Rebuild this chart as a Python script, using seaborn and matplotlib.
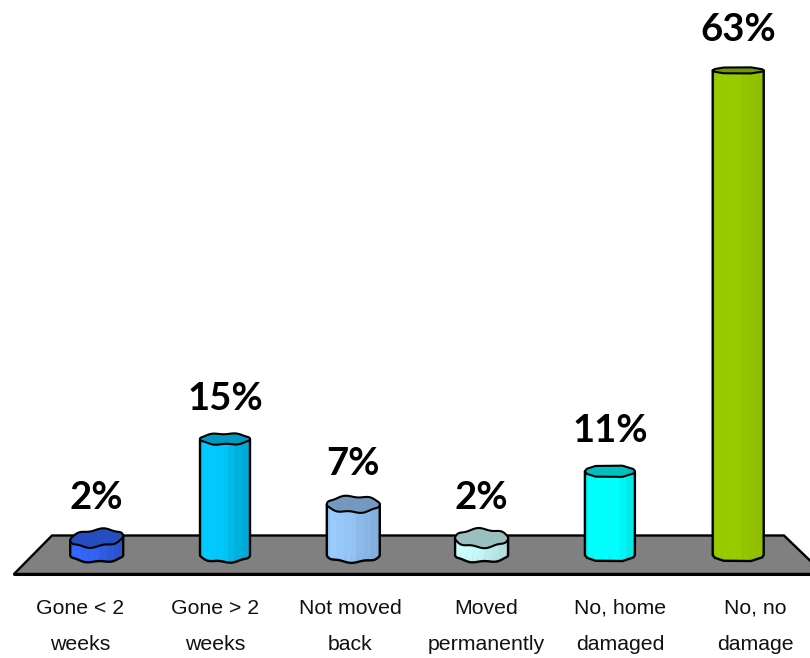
import numpy as np
import pandas as pd
import seaborn as sns
import matplotlib
matplotlib.use("Agg")
import matplotlib.pyplot as plt
from matplotlib.colors import to_rgb

categories = ["Gone < 2\nweeks", "Gone > 2\nweeks", "Not moved\nback",
              "Moved\npermanently", "No, home\ndamaged", "No, no\ndamage"]
values = [2.2, 15.1, 6.6, 2.2, 10.9, 63.1]
value_labels = ["2%", "15%", "7%", "2%", "11%", "63%"]
side_colors = ["#3366FF", "#00CCFF", "#99CCFF", "#CCFFFF", "#00FFFF", "#99CC00"]

# layout, in pixels of the 810x658 picture
W, H = 810, 658
PX_PER_CAT = 128.3
PX_PER_PCT = 7.68
X0_PX = 96.7
BASE_PX = 555.0
FLOOR_BOTTOM_PX = 574.0
bar_widths_px = [53, 50, 53, 53, 50, 51]
top_ry_px = [8.5, 5.5, 8, 9, 6.5, 3.5]
base_ry_px = [7, 7, 7, 7, 7, 7]
rim_kind = ["bean", "wave", "wave", "wave", "oct", "oct"]
tick_px = [80, 215, 350, 486, 620.5, 755]
# how each bar's side darkens from left to right
shade_f = [0.0, 0.1, 0.5, 0.65, 0.85, 1.0]
shade_v = [[1.0, 1.0, 0.95, 0.88, 0.82, 0.78],
           [0.95, 1.0, 0.97, 0.9, 0.84, 0.8],
           [0.92, 1.0, 0.95, 0.9, 0.88, 0.78],
           [1.0, 1.0, 0.96, 0.92, 0.88, 0.82],
           [0.92, 1.0, 1.0, 1.0, 0.93, 0.88],
           [0.97, 1.0, 1.0, 0.97, 0.94, 0.94]]
top_shade = 0.75

sns.set_theme(style="white")
plt.rcParams["font.family"] = ["Liberation Sans", "DejaVu Sans"]

fig = plt.figure(figsize=(W / 100, H / 100), dpi=100, facecolor="white")
ax = fig.add_axes([0, 1 - FLOOR_BOTTOM_PX / H, 1, FLOOR_BOTTOM_PX / H])

df = pd.DataFrame({"category": categories, "value": values})
sns.barplot(data=df, x="category", y="value", hue="category", order=categories,
            hue_order=categories, palette=side_colors, width=0.38, legend=False,
            linewidth=0, ax=ax, zorder=2)

ax.set_xlim(-X0_PX / PX_PER_CAT, (W - X0_PX) / PX_PER_CAT)
ax.set_ylim((BASE_PX - FLOOR_BOTTOM_PX) / PX_PER_PCT, BASE_PX / PX_PER_PCT)
for s in ax.spines.values():
    s.set_visible(False)
ax.set_xlabel("")
ax.set_ylabel("")
ax.set_yticks([])
ax.set_xticks([(p - X0_PX) / PX_PER_CAT for p in tick_px])
ax.set_xticklabels(categories, fontsize=15.3, color="#111111", linespacing=2.13)
ax.tick_params(axis="x", length=0, pad=18)


def dx(px):
    return (np.asarray(px, float) - X0_PX) / PX_PER_CAT


def dy(py):
    return (BASE_PX - np.asarray(py, float)) / PX_PER_PCT


# floor
floor_x = [14, 52, 784, 824]
floor_y = [574, 535.5, 535.5, 574]
ax.fill(dx(floor_x), dy(floor_y), facecolor="#808080", edgecolor="black",
        linewidth=1.7, zorder=1)
ax.plot(dx([14, 810]), dy([574, 574]), color="black", lw=2.2, zorder=1.1, clip_on=False)


def rim(kind, rx, ry, seed):
    """Closed rim outline around (0,0) in pixels, y up; starts at the left end,
    runs along the front half to the right end, then back along the rear half."""
    if kind == "oct":
        t = np.deg2rad(np.array([-180, -157, -125, -60, -20, 0, 20, 60, 125, 157, 180]))
        return rx * np.cos(t), ry * np.sin(t), 6
    t = np.linspace(-np.pi, np.pi, 181)
    x = rx * np.cos(t)
    y = ry * np.sin(t) * (1 + 0.13 * np.sin(6 * t + seed))
    if kind == "bean":
        y = y + 0.08 * x
    return x, y, 91


for i, (v, col) in enumerate(zip(values, side_colors)):
    w = bar_widths_px[i]
    tx, ty, nt = rim(rim_kind[i], w / 2, top_ry_px[i], i * 1.3)
    bx, by, nb = rim("oct" if rim_kind[i] == "oct" else "wave", w / 2, base_ry_px[i], i * 2.1 + 1)
    tfx, tfy = tx[:nt], ty[:nt]
    bfx, bfy = bx[:nb], by[:nb]
    base = np.array(to_rgb(col))
    edges = np.linspace(-w / 2, w / 2, 23)
    for a, b in zip(edges[:-1], edges[1:]):
        f = (0.5 * (a + b) + w / 2) / w
        m = np.interp(round(f * 8) / 8, shade_f, shade_v[i])
        xs = np.array([a, b + 0.3])
        yb = np.interp(xs, bfx, bfy) / PX_PER_PCT
        yt = v + np.interp(xs, tfx, tfy) / PX_PER_PCT
        ax.fill_between(i + xs / PX_PER_CAT, yb, yt, color=np.clip(base * m, 0, 1),
                        linewidth=0, zorder=3)
    # sides and bottom
    ox = np.r_[tfx[0], bfx, tfx[-1]] / PX_PER_CAT + i
    oy = np.r_[v + tfy[0] / PX_PER_PCT, bfy / PX_PER_PCT, v + tfy[-1] / PX_PER_PCT]
    ax.plot(ox, oy, color="black", lw=1.7, zorder=4, solid_joinstyle="round")
    # top rim
    ax.fill(i + tx / PX_PER_CAT, v + ty / PX_PER_PCT, facecolor=base * top_shade,
            edgecolor="black", linewidth=1.5, zorder=5, joinstyle="round")
    ax.annotate(value_labels[i], (i, v), xytext=(0, 40.5 * 0.72), textcoords="offset points",
                ha="center", va="center", fontsize=27.5, fontweight="bold",
                family=["Lato", "DejaVu Sans"], color="black", annotation_clip=False, zorder=6)

fig.savefig("out.png", dpi=100, facecolor="white")
